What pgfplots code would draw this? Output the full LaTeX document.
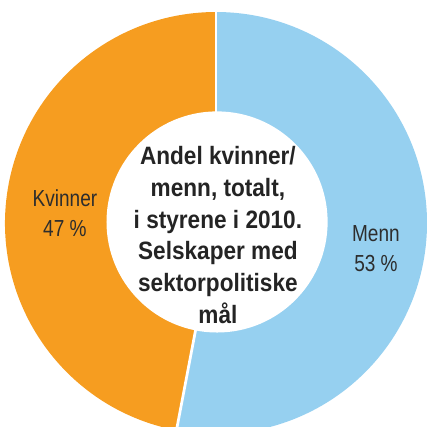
\documentclass[border=0pt]{standalone}
\usepackage{pgfplots}
\usepackage{pgfplotstable}
\pgfplotsset{compat=1.18}
\usepackage{fontspec}
\setmainfont{Liberation Sans}
\newfontfamily\cfont[FakeStretch=0.9]{Liberation Sans}
\newfontfamily\lfont[FakeStretch=0.82]{Liberation Sans}
\definecolor{mblue}{RGB}{150,208,240}
\definecolor{korange}{RGB}{246,157,32}
\definecolor{txt}{RGB}{45,45,45}
\pgfplotstableread{
label value
Menn 53
Kvinner 47
}\piedata
\pgfplotstablegetelem{0}{value}\of\piedata
\xdef\vM{\pgfplotsretval}
\pgfplotstablegetelem{1}{value}\of\piedata
\xdef\vK{\pgfplotsretval}
\pgfmathsetmacro{\aEnd}{90-3.6*\vM}
\pgfmathsetmacro{\aEndK}{\aEnd-3.6*\vK}
\begin{document}
\begin{tikzpicture}
\begin{axis}[
  scale only axis,
  width=202.37pt, height=201.9pt,
  xmin=-1.0237, xmax=1.0, ymin=-0.962, ymax=1.0569,
  hide axis, clip=true,
]
\fill[mblue] (axis cs:0,0) -- ([shift={(90:100pt)}]axis cs:0,0) arc[start angle=90, end angle=\aEnd, radius=100pt] -- cycle;
\fill[korange] (axis cs:0,0) -- ([shift={(\aEnd:100pt)}]axis cs:0,0) arc[start angle=\aEnd, end angle=\aEndK, radius=100pt] -- cycle;
\draw[white, line width=1.3pt] (axis cs:0,0) -- ([shift={(90:101pt)}]axis cs:0,0);
\draw[white, line width=1.3pt] (axis cs:0,0) -- ([shift={(\aEnd:101pt)}]axis cs:0,0);
\fill[white] (axis cs:0.005,0.005) circle[radius=52.4pt];
\node[align=center, text=txt, font=\lfont\fontsize{11}{14.2}\selectfont] at (axis cs:-0.716,0.045) {Kvinner\\\vK\ \%};
\node[align=center, text=txt, font=\lfont\fontsize{11}{14.2}\selectfont] at (axis cs:0.758,-0.121) {Menn\\\vM\ \%};
\node[align=center, text=txt!80!black, font=\cfont\bfseries\fontsize{11.9}{15}\selectfont] at (axis cs:0.009,-0.057) {Andel kvinner/\\menn, totalt,\\i styrene i 2010.\\Selskaper med\\sektorpolitiske\\mål};
\end{axis}
\pgfresetboundingbox
\path (current axis.south west) rectangle (current axis.north east);
\end{tikzpicture}
\end{document}
